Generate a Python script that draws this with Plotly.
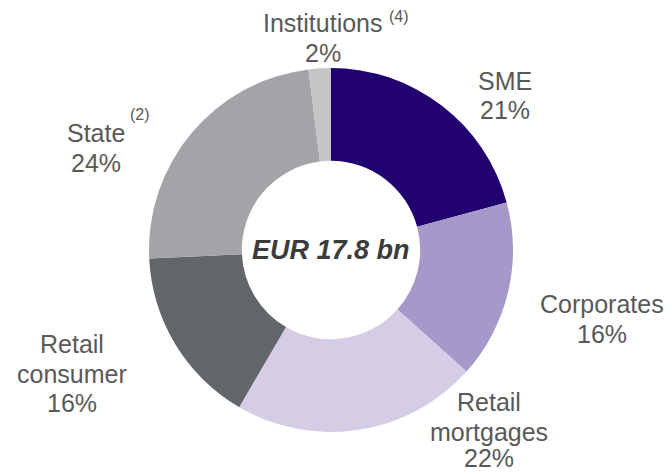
import plotly.graph_objects as go

# Loan book breakdown by segment (share of total, %)
segments = ["SME", "Corporates", "Retail mortgages", "Retail consumer", "State", "Institutions"]
shares = [21, 16, 22, 16, 24, 2]
footnotes = ["", "", "", "", "(2)", "(4)"]
total_label = "EUR 17.8 bn"

colors = ["#210070", "#a698c9", "#d5cde5", "#626569", "#a3a4a7", "#c4c5c7"]

W, H = 672, 473
TEXT_COLOR = "#595959"
FONT = "Liberation Sans, Arial, sans-serif"

# Label anchor (centre of first line) in pixels, line gap, footnote anchor
label_anchor = {
    "SME": (505, 81),
    "Corporates": (602, 304),
    "Retail mortgages": (489, 402),
    "Retail consumer": (72, 344),
    "State": (96, 133),
    "Institutions": (323, 23),
}
footnote_anchor = {"State": (140, 115), "Institutions": (399, 16)}
LINE_GAP = 29.5
wrap = {"Retail mortgages": ["Retail", "mortgages"], "Retail consumer": ["Retail", "consumer"]}


def px(x, y):
    return x / W, 1 - y / H


fig = go.Figure(
    go.Pie(
        labels=segments,
        values=shares,
        hole=0.49,
        sort=False,
        direction="clockwise",
        rotation=0,
        textinfo="none",
        marker=dict(colors=colors, line=dict(width=0)),
        domain=dict(x=[149 / W, 513 / W], y=[1 - 432 / H, 1 - 68 / H]),
        showlegend=False,
        hoverinfo="label+percent",
    )
)

annotations = []
for name, share, note in zip(segments, shares, footnotes):
    cx, cy = label_anchor[name]
    lines = wrap.get(name, [name]) + [f"{share}%"]
    for i, line in enumerate(lines):
        x, y = px(cx, cy + i * LINE_GAP)
        last_bottom = name == "Retail mortgages" and i == len(lines) - 1
        annotations.append(dict(
            x=x, y=0 if last_bottom else y, xref="paper", yref="paper", text=line,
            showarrow=False, xanchor="center",
            yanchor="bottom" if last_bottom else "middle",
            yshift=-1 if last_bottom else 0,
            font=dict(family=FONT, size=25, color=TEXT_COLOR),
        ))
    if note:
        fx, fy = px(*footnote_anchor[name])
        annotations.append(dict(
            x=fx, y=fy, xref="paper", yref="paper", text=note, showarrow=False,
            xanchor="center", yanchor="middle",
            font=dict(family=FONT, size=16, color=TEXT_COLOR),
        ))

cx, cy = px(331, 250)
annotations.append(dict(
    x=cx, y=cy, xref="paper", yref="paper", text=f"<b><i>{total_label}</i></b>",
    showarrow=False, xanchor="center", yanchor="middle",
    font=dict(family=FONT, size=27, color="#3c3c3c"),
))

fig.update_layout(
    width=W, height=H,
    margin=dict(l=0, r=0, t=0, b=0),
    paper_bgcolor="white", plot_bgcolor="white",
    annotations=annotations,
)

fig.write_html("out.html")
